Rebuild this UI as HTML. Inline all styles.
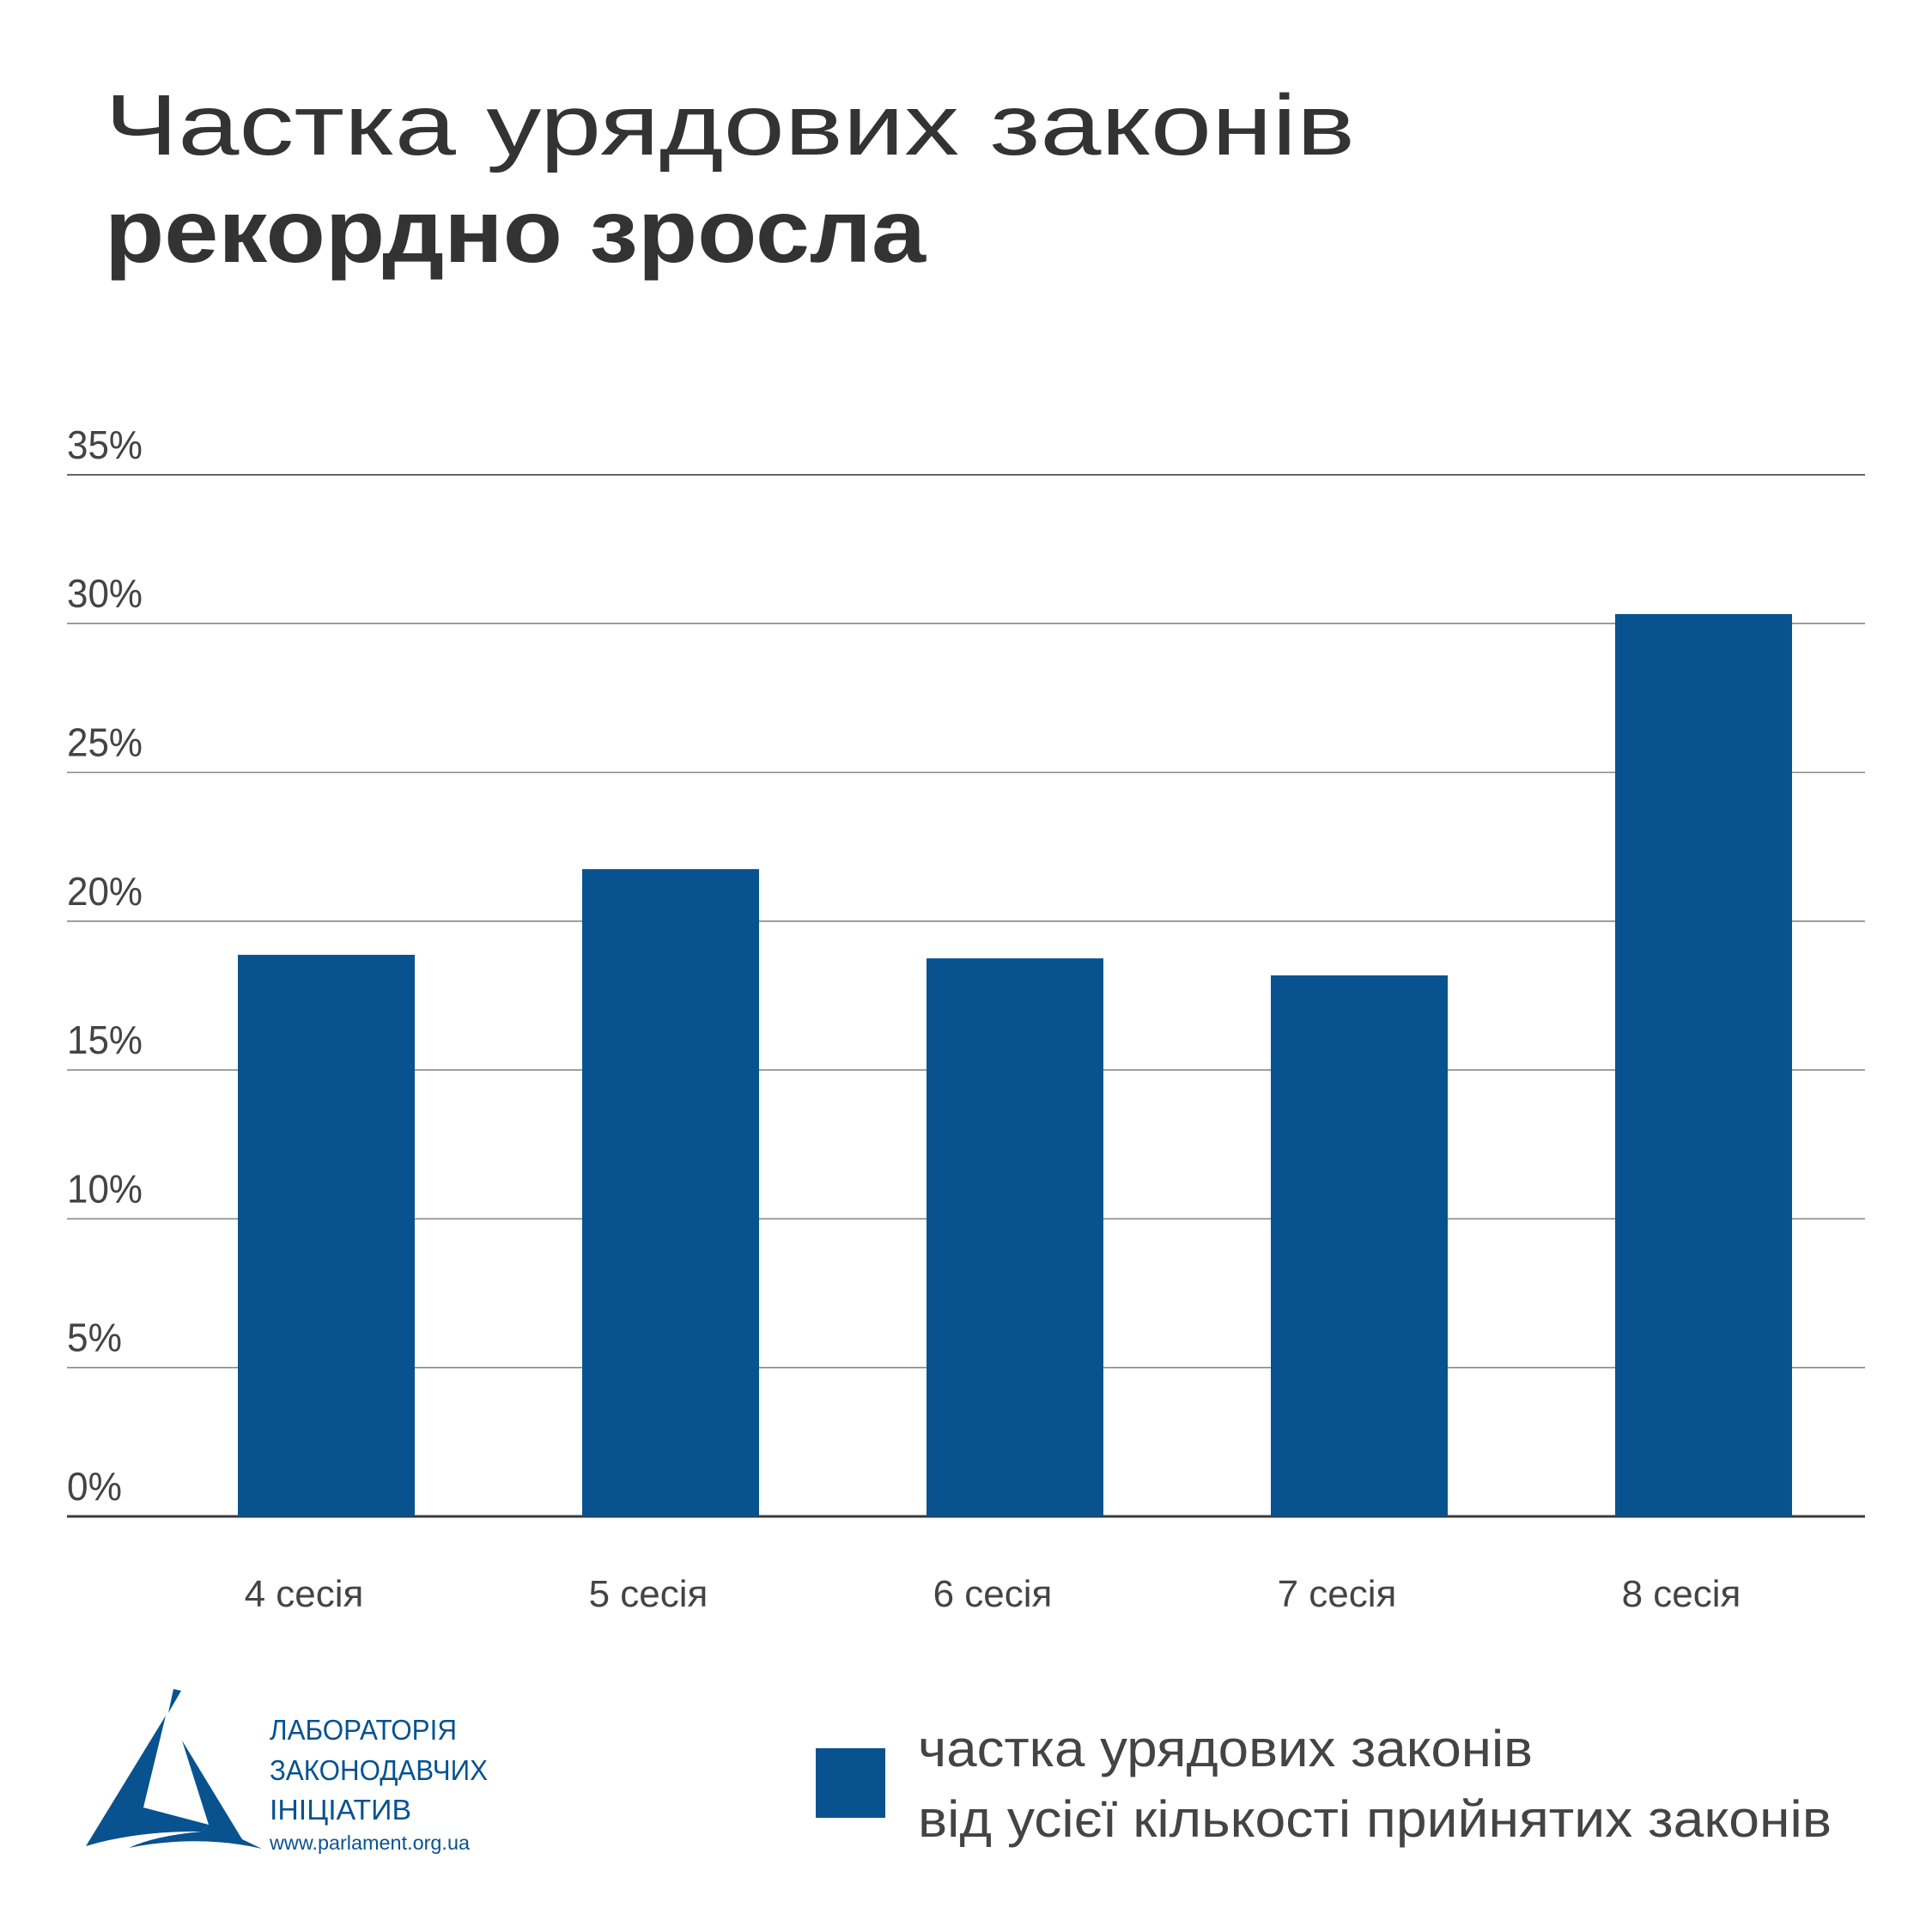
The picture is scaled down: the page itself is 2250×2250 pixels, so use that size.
<!DOCTYPE html>
<html><head><meta charset="utf-8"><style>
html,body{margin:0;padding:0;background:#fff;}
svg{display:block;}
text{font-family:"Liberation Sans","Noto Sans CJK SC",sans-serif;}
</style></head><body>
<svg id="chart" width="2250" height="2250" viewBox="0 0 2250 2250" xmlns="http://www.w3.org/2000/svg">
<rect width="2250" height="2250" fill="#fff"/>
<text x="122" y="180" font-size="100" fill="#333" textLength="1456" lengthAdjust="spacingAndGlyphs">Частка  урядових  законів</text>
<text x="122" y="305" font-size="104" font-weight="bold" fill="#333" textLength="956" lengthAdjust="spacingAndGlyphs">рекордно  зросла</text>
<g id="grid"></g>
<g id="bars"></g>
<g id="xlabels"></g>
<g>
<path d="M202,1967 L211,1969 L196,1995 Z" fill="#08528f"/>
<path d="M193,1998 L100,2150 Q160,2132 235,2133 L243,2125 L167,2105 Z" fill="#08528f"/>
<path d="M212,2027 L243,2125 L235,2133 Q180,2138 150,2152 Q230,2136 305,2153 L282,2142 Z" fill="#08528f"/>
<text x="314" y="2026" font-size="33" fill="#08528f" textLength="218" lengthAdjust="spacingAndGlyphs">ЛАБОРАТОРІЯ</text>
<text x="314" y="2073" font-size="33" fill="#08528f" textLength="254" lengthAdjust="spacingAndGlyphs">ЗАКОНОДАВЧИХ</text>
<text x="314" y="2119" font-size="33" fill="#08528f" textLength="165" lengthAdjust="spacingAndGlyphs">ІНІЦІАТИВ</text>
<text x="314" y="2154" font-size="23" fill="#08528f" textLength="233" lengthAdjust="spacingAndGlyphs">www.parlament.org.ua</text>
</g>
<g>
<rect x="950" y="2036" width="81" height="81" fill="#08538f"/>
<text x="1069" y="2057" font-size="60" fill="#444" textLength="716" lengthAdjust="spacingAndGlyphs">частка урядових законів</text>
<text x="1069" y="2139" font-size="60" fill="#444" textLength="1064" lengthAdjust="spacingAndGlyphs">від усієї кількості прийнятих законів</text>
</g>
</svg>
<script>
const categories = ["4 сесія","5 сесія","6 сесія","7 сесія","8 сесія"];
const values = [18.87, 21.75, 18.75, 18.18, 30.32];
const tickValues = [0,5,10,15,20,25,30,35];
const tickLabels = ["0%","5%","10%","15%","20%","25%","30%","35%"];

const NS = "http://www.w3.org/2000/svg";
const y0 = 1766, pxPerUnit = 173.3/5;
function yScale(v){ return y0 - v*pxPerUnit; }
function xCenter(i){ return 380 + i*401; }
const barW = 206;

const grid = document.getElementById('grid');
tickValues.forEach((t,i)=>{
  const y = yScale(t);
  const ln = document.createElementNS(NS,'line');
  
  
  ln.setAttribute('x1',78); ln.setAttribute('x2',2172);
  ln.setAttribute('y1',y); ln.setAttribute('y2',y);
  ln.setAttribute('stroke', t===0 ? '#3a3a3a' : (t===35 ? '#444' : '#888'));
  ln.setAttribute('stroke-width', t===0 ? 3 : 1.6);
  grid.appendChild(ln);
  const tx = document.createElementNS(NS,'text');
  
  
  tx.setAttribute('x',78); tx.setAttribute('y',y-19);
  tx.setAttribute('font-size',46); tx.setAttribute('fill','#444');
  tx.setAttribute('textLength', tickLabels[i].length===3 ? 88 : 64);
  tx.setAttribute('lengthAdjust','spacingAndGlyphs');
  tx.textContent = tickLabels[i];
  grid.appendChild(tx);
});

const bars = document.getElementById('bars');
const xl = document.getElementById('xlabels');
values.forEach((v,i)=>{
  const r = document.createElementNS(NS,'rect');
  
  
  r.setAttribute('x', xCenter(i)-barW/2);
  r.setAttribute('y', yScale(v));
  r.setAttribute('width', barW);
  r.setAttribute('height', y0 - yScale(v));
  r.setAttribute('fill','#08538f');
  bars.appendChild(r);
  const t = document.createElementNS(NS,'text');
  
  
  t.setAttribute('x', xCenter(i)-26);
  t.setAttribute('y', 1871);
  t.setAttribute('font-size',44);
  t.setAttribute('fill','#444');
  t.setAttribute('text-anchor','middle');
  t.textContent = categories[i];
  xl.appendChild(t);
});
</script>
</body></html>
